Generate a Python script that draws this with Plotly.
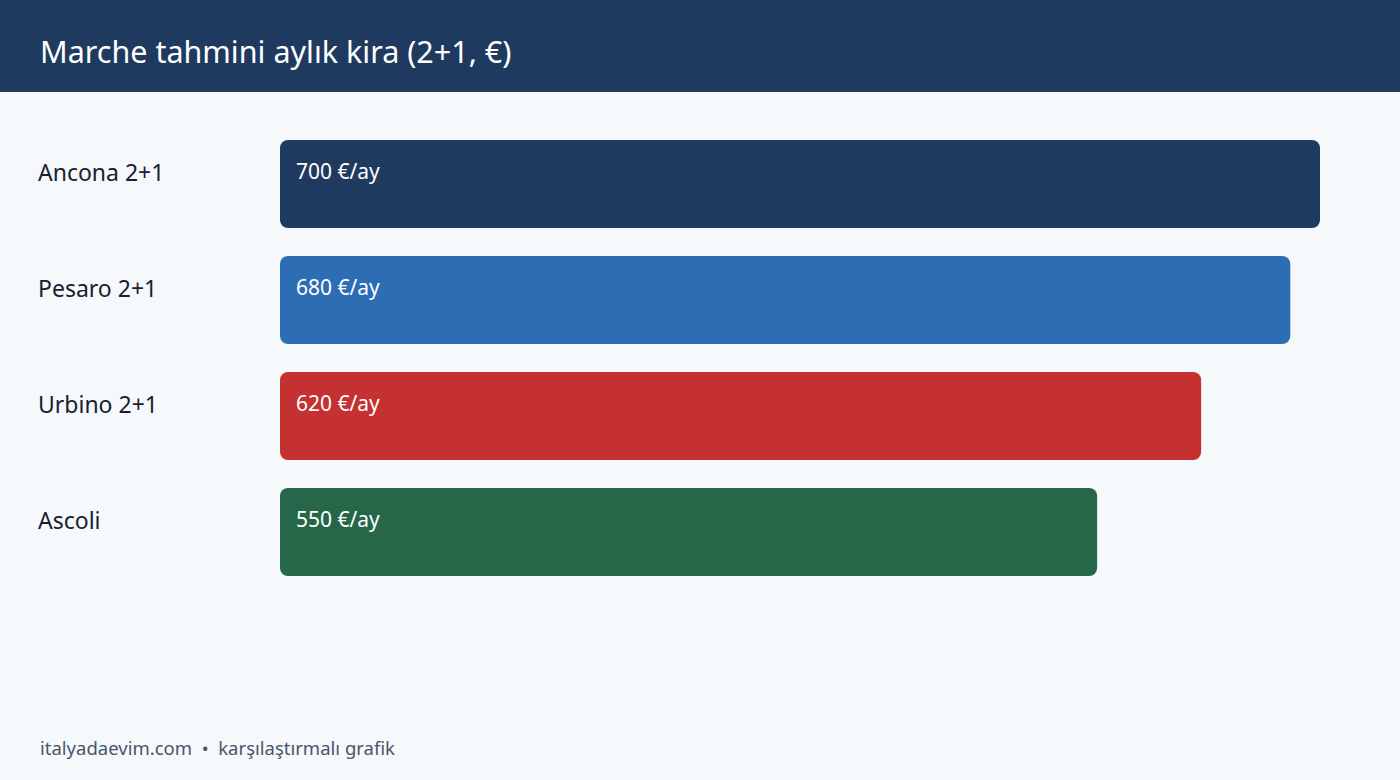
import plotly.graph_objects as go

categories = ["Ancona 2+1", "Pesaro 2+1", "Urbino 2+1", "Ascoli"]
rents = [700, 680, 620, 550]
value_labels = ["700 €/ay", "680 €/ay", "620 €/ay", "550 €/ay"]
bar_colors = ["#1f3a5f", "#2c6db3", "#c53030", "#276749"]

W, H = 1400, 780
ML, MR, MT, MB = 280, 80, 126, 190
PW = W - ML - MR
PH = H - MT - MB

def px_x(p):
    return (p - ML) / PW

def px_y(p):
    return (H - MB - p) / PH

FONT = "Noto Sans"

fig = go.Figure()
# each bar drawn as two overlapping halves so that both ends get rounded corners
mid_lo = [r * 0.45 for r in rents]
mid_hi = [r * 0.55 for r in rents]
fig.add_trace(go.Bar(
    x=[-m for m in mid_hi], base=mid_hi, y=categories, orientation="h",
    marker=dict(color=bar_colors, line=dict(width=0)),
    hoverinfo="skip", showlegend=False,
))
fig.add_trace(go.Bar(
    x=[r - m for r, m in zip(rents, mid_lo)], base=mid_lo, y=categories, orientation="h",
    marker=dict(color=bar_colors, line=dict(width=0)),
    hoverinfo="skip", showlegend=False,
))

annotations = []
for cat, lab in zip(categories, value_labels):
    annotations.append(dict(
        x=px_x(36), xref="paper", y=cat, yref="y", yshift=12,
        text=cat, showarrow=False, xanchor="left", yanchor="middle",
        font=dict(family=FONT, size=23, color="#1a202c"),
    ))
    annotations.append(dict(
        x=0, xref="x", xshift=14, y=cat, yref="y", yshift=13,
        text=lab, showarrow=False, xanchor="left", yanchor="middle",
        font=dict(family=FONT, size=21, color="#ffffff"),
    ))
annotations.append(dict(
    x=px_x(38), xref="paper", y=px_y(747), yref="paper",
    text="italyadaevim.com  •  karşılaştırmalı grafik", showarrow=False,
    xanchor="left", yanchor="middle",
    font=dict(family=FONT, size=18.5, color="#4a5568"),
))

fig.update_layout(
    width=W, height=H,
    margin=dict(l=ML, r=MR, t=MT, b=MB),
    paper_bgcolor="#f5f9fc", plot_bgcolor="#f5f9fc",
    barmode="overlay",
    bargap=1 - 88 / 116,
    barcornerradius=8,
    title=dict(
        text="Marche tahmini aylık kira (2+1, €)",
        x=40 / W, xref="container", xanchor="left",
        y=1 - 52 / H, yref="container", yanchor="middle",
        font=dict(family=FONT, size=30.5, color="#ffffff"),
    ),
    xaxis=dict(range=[0, 700], visible=False, fixedrange=True),
    yaxis=dict(autorange="reversed", visible=False, fixedrange=True),
    shapes=[dict(
        type="rect", xref="paper", yref="paper",
        x0=-1, x1=2, y0=px_y(92), y1=3,
        fillcolor="#1f3a5f", line=dict(width=0), layer="below",
    )],
    annotations=annotations,
)

fig.write_html(
    "out.html",
    config={"displayModeBar": False},
    post_script="document.body.style.margin='0';document.body.style.overflow='hidden';",
)
